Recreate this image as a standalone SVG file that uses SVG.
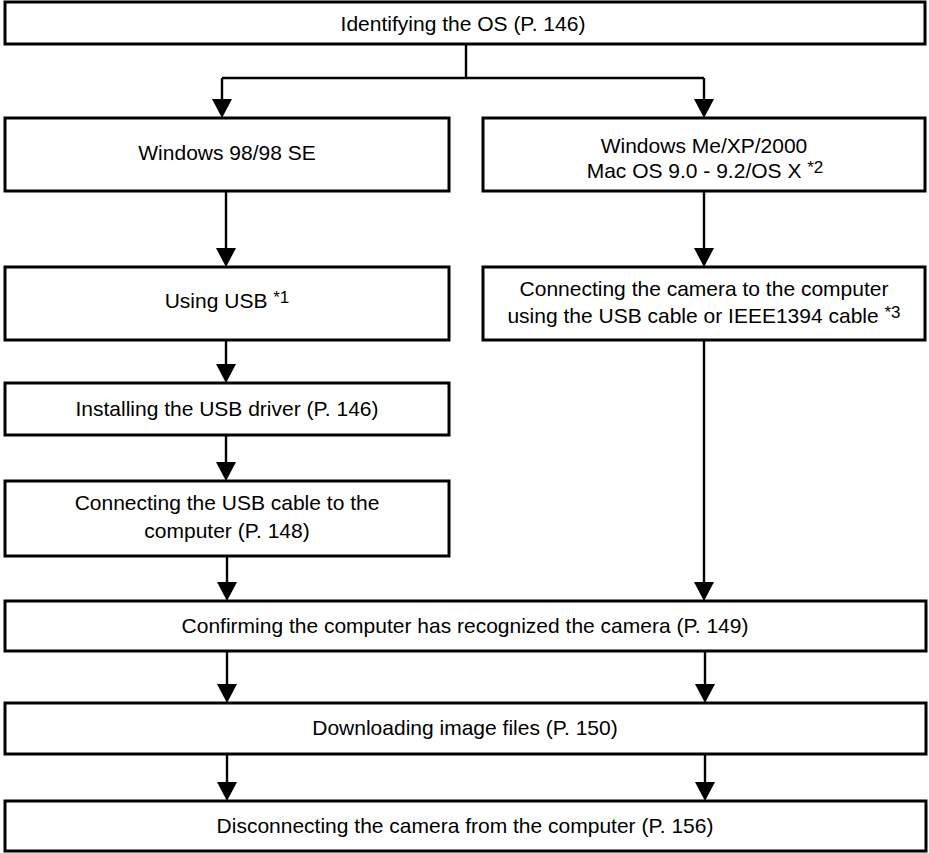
<svg xmlns="http://www.w3.org/2000/svg" width="929" height="853" viewBox="0 0 929 853">
  <defs>
    <marker id="arr" viewBox="0 0 19 20" refX="15" refY="10" markerWidth="19" markerHeight="20" markerUnits="userSpaceOnUse" orient="auto">
      <path d="M0,0 L19,10 L0,20 z" fill="#000"/>
    </marker>
    <style>
      .box { fill: #fff; stroke: #000; stroke-width: 3; }
      .t { font-family: "Liberation Sans", Arial, sans-serif; font-size: 21px; fill: #000; text-anchor: middle; }
      .sup { font-size: 17px; }
      .c { fill: none; stroke: #000; stroke-width: 2.4; }
      .a { fill: none; stroke: #000; stroke-width: 2.4; marker-end: url(#arr); }
    </style>
  </defs>
  <rect width="929" height="853" fill="#fff"/>

  <g id="connectors">
    <path class="c" d="M466,44 V78 M222,78 H704"/>
    <path class="a" d="M222,78 V114"/>
    <path class="a" d="M704,78 V114"/>
    <path class="a" d="M226,191 V263"/>
    <path class="a" d="M704,191 V263"/>
    <path class="a" d="M226,340 V379"/>
    <path class="a" d="M226,435 V477"/>
    <path class="a" d="M227,556 V597"/>
    <path class="a" d="M704,340 V597"/>
    <path class="a" d="M227,651 V699"/>
    <path class="a" d="M705,651 V699"/>
    <path class="a" d="M227,754 V797"/>
    <path class="a" d="M705,754 V797"/>
  </g>

  <g id="n-identify">
    <rect class="box" x="5" y="2" width="920" height="42"/>
    <text class="t" x="463" y="31">Identifying the OS (P. 146)</text>
  </g>
  <g id="n-win98">
    <rect class="box" x="5" y="118" width="444" height="73"/>
    <text class="t" x="227" y="160">Windows 98/98 SE</text>
  </g>
  <g id="n-winme">
    <rect class="box" x="483" y="118" width="442" height="73"/>
    <text class="t" x="704" y="153">Windows Me/XP/2000</text>
    <text class="t" x="705" y="178">Mac OS 9.0 - 9.2/OS X <tspan class="sup" dy="-5">*2</tspan></text>
  </g>
  <g id="n-usb">
    <rect class="box" x="5" y="267" width="444" height="73"/>
    <text class="t" x="227" y="308">Using USB <tspan class="sup" dy="-5">*1</tspan></text>
  </g>
  <g id="n-connect-cam">
    <rect class="box" x="483" y="267" width="442" height="73"/>
    <text class="t" x="704" y="296">Connecting the camera to the computer</text>
    <text class="t" x="704" y="323">using the USB cable or IEEE1394 cable <tspan class="sup" dy="-5">*3</tspan></text>
  </g>
  <g id="n-install">
    <rect class="box" x="5" y="383" width="444" height="52"/>
    <text class="t" x="227" y="416">Installing the USB driver (P. 146)</text>
  </g>
  <g id="n-connect-usb">
    <rect class="box" x="5" y="481" width="444" height="75"/>
    <text class="t" x="227" y="510">Connecting the USB cable to the</text>
    <text class="t" x="227" y="538">computer (P. 148)</text>
  </g>
  <g id="n-confirm">
    <rect class="box" x="5" y="601" width="921" height="50"/>
    <text class="t" x="465" y="633">Confirming the computer has recognized the camera (P. 149)</text>
  </g>
  <g id="n-download">
    <rect class="box" x="5" y="703" width="921" height="51"/>
    <text class="t" x="465" y="735">Downloading image files (P. 150)</text>
  </g>
  <g id="n-disconnect">
    <rect class="box" x="5" y="801" width="921" height="50"/>
    <text class="t" x="465" y="833">Disconnecting the camera from the computer (P. 156)</text>
  </g>
</svg>
